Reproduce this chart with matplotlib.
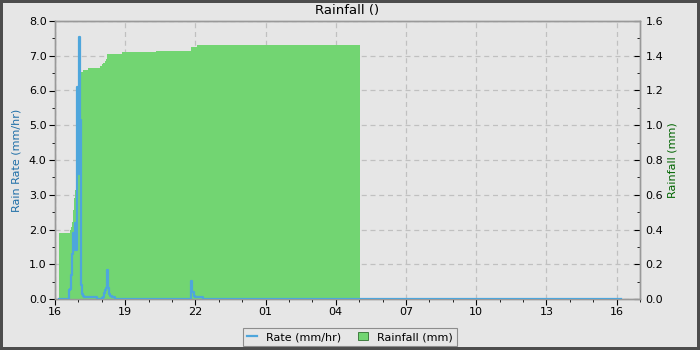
import matplotlib
matplotlib.use("Agg")
import matplotlib.pyplot as plt
import matplotlib.dates as mdates
from matplotlib.ticker import MultipleLocator, FormatStrFormatter
from matplotlib.lines import Line2D
from matplotlib.patches import Patch
import pandas as pd

# ---- data (hours after 16:00) ----
rate_hours = [0.17, 0.60, 0.64, 0.69, 0.73, 0.77, 0.80, 0.84, 0.88, 0.92, 0.96, 0.99,
              1.02, 1.05, 1.09, 1.12, 1.15, 1.18, 1.25, 1.45, 1.65, 1.80,
              2.00, 2.05, 2.10, 2.15, 2.19, 2.23, 2.27, 2.31, 2.36, 2.45, 2.57,
              5.82, 5.87, 5.92, 6.00, 6.33, 24.2]
rate_values = [0.0, 0.25, 0.3, 0.7, 1.3, 1.9, 1.4, 2.2, 1.4, 3.6, 6.1, 3.6,
               7.55, 5.15, 2.85, 0.4, 0.15, 0.1, 0.07, 0.07, 0.05, 0.0,
               0.03, 0.07, 0.16, 0.26, 0.33, 0.83, 0.33, 0.14, 0.09, 0.05, 0.0,
               0.52, 0.21, 0.1, 0.05, 0.0, 0.0]

rain_hours = [0.17, 0.62, 0.67, 0.72, 0.77, 0.82, 0.87, 0.92, 0.96, 1.00, 1.03, 1.07,
              1.11, 1.20, 1.42, 1.93, 2.00, 2.07, 2.13, 2.18, 2.24, 2.85, 4.32,
              5.83, 6.08, 13.05]
rain_values = [0.382, 0.397, 0.416, 0.445, 0.51, 0.58, 0.628, 0.73, 0.76, 0.97, 1.1, 1.28,
               1.308, 1.318, 1.33, 1.34, 1.35, 1.36, 1.37, 1.38, 1.41, 1.424, 1.428,
               1.449, 1.462, 1.462]

x_tick_labels = ["16", "19", "22", "01", "04", "07", "10", "13", "16"]

base = pd.Timestamp("2024-05-16 16:00")
rate_t = base + pd.to_timedelta(rate_hours, unit="h")
rain_t = base + pd.to_timedelta(rain_hours, unit="h")

BG = "#e6e6e6"
BLUE = "#4ea6dc"
GREEN = "#72d572"
SPINE = "#999999"

plt.rcParams["font.family"] = ["DejaVu Sans"]

fig = plt.figure(figsize=(7, 3.5), dpi=100, facecolor=BG)
fig.patch.set_edgecolor("#4d4d4d")
fig.patch.set_linewidth(4)

ax = fig.add_axes([55 / 700, 1 - 299 / 350, (640 - 55) / 700, (299 - 21) / 350])
ax2 = ax.twinx()
ax.set_zorder(2)
ax2.set_zorder(1)
ax.patch.set_visible(False)
ax2.patch.set_visible(True)
ax2.patch.set_facecolor(BG)

# rainfall fill (right axis)
ax2.fill_between(rain_t, 0, rain_values, step="post", color=GREEN, linewidth=0, zorder=3)
ax2.set_ylim(0, 1.6)
ax2.yaxis.set_major_locator(MultipleLocator(0.2))
ax2.yaxis.set_minor_locator(MultipleLocator(0.1))
ax2.yaxis.set_major_formatter(FormatStrFormatter("%.1f"))
ax2.set_ylabel("Rainfall (mm)", color="#006400", fontsize=8, labelpad=3)
ax2.tick_params(axis="y", which="major", direction="in", length=4, labelsize=8, pad=4)
ax2.tick_params(axis="y", which="minor", direction="in", length=2.5)

# grid on the back axes
ax2.xaxis.set_visible(True)
ax2.grid(True, axis="both", which="major", linestyle=(0, (4, 3)), color="#c0c0c0", linewidth=0.9, zorder=0)
ax2.tick_params(axis="x", which="both", bottom=False, top=False, labelbottom=False, labeltop=False)
ax2.set_axisbelow(True)

# rate line (left axis)
ax.plot(rate_t, rate_values, drawstyle="steps-post", color=BLUE, linewidth=1.6, zorder=3)
ax.set_ylim(0, 8)
ax.yaxis.set_major_locator(MultipleLocator(1.0))
ax.yaxis.set_minor_locator(MultipleLocator(0.5))
ax.yaxis.set_major_formatter(FormatStrFormatter("%.1f"))
ax.set_ylabel("Rain Rate (mm/hr)", color="#1f6fa8", fontsize=8, labelpad=5)
ax.tick_params(axis="y", which="major", direction="out", length=4, labelsize=8, pad=2)
ax.tick_params(axis="y", which="minor", direction="out", length=2.5)

ax.set_xlim(base, base + pd.Timedelta(hours=25))
ax2.set_xlim(base, base + pd.Timedelta(hours=25))
major_ticks = [base + pd.Timedelta(hours=3 * i) for i in range(len(x_tick_labels))]
ax.set_xticks(major_ticks)
ax.set_xticklabels(x_tick_labels)
ax.xaxis.set_minor_locator(mdates.HourLocator())
ax.tick_params(axis="x", which="major", direction="out", length=4, labelsize=8, pad=2)
ax.tick_params(axis="x", which="minor", direction="out", length=2.5)

for a in (ax, ax2):
    for s in a.spines.values():
        s.set_color(SPINE)
        s.set_linewidth(1.0)

ax.set_title("Rainfall ()", fontsize=9.5, pad=5)

handles = [Line2D([0], [0], color=BLUE, linewidth=1.6),
           Patch(facecolor=GREEN, edgecolor="#2f6f2f", linewidth=0.6)]
leg = fig.legend(handles, ["Rate (mm/hr)", "Rainfall (mm)"], loc="center",
                 bbox_to_anchor=(0.5, 1 - 337 / 350), ncol=2, fontsize=8,
                 frameon=True, fancybox=False, handlelength=0.9, handleheight=0.7,
                 columnspacing=1.5, borderpad=0.4, handletextpad=0.8)
leg.get_frame().set_edgecolor("#777777")
leg.get_frame().set_facecolor(BG)
leg.get_frame().set_linewidth(0.8)

fig.savefig("out.png", dpi=100, facecolor=BG, edgecolor=fig.patch.get_edgecolor())
